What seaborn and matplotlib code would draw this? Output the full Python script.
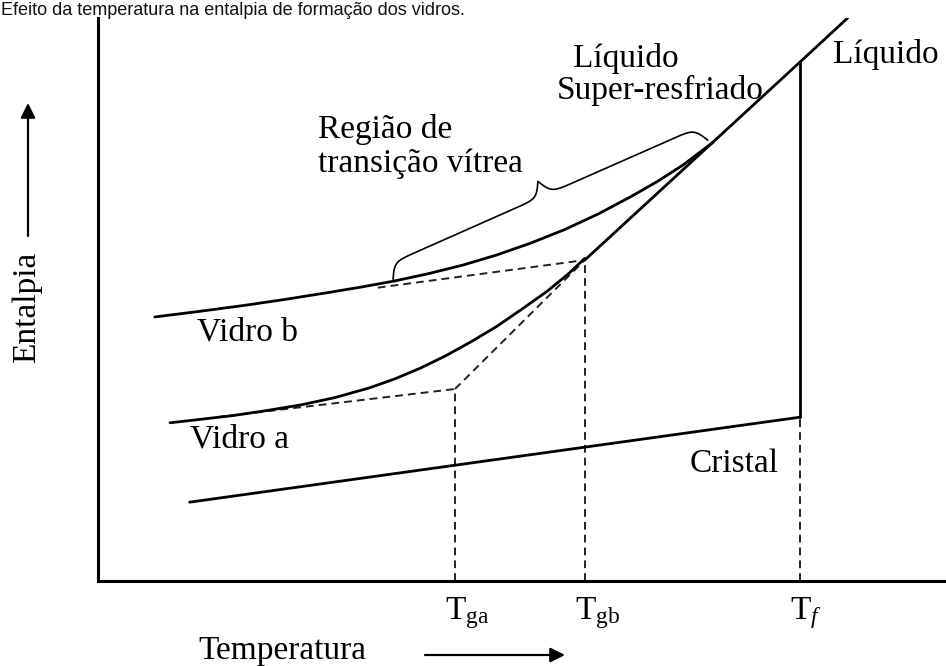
import numpy as np
import pandas as pd
import matplotlib
matplotlib.use('Agg')
import matplotlib.pyplot as plt
import matplotlib.transforms as mtransforms
import seaborn as sns

# --- values (temperature / enthalpy, arbitrary units 0-100) ---
t_liquido = [57.4, 82.8, 88.4]
h_liquido = [57.0, 92.2, 100.0]

t_vidro_b = [6.7, 12, 17, 22, 27, 31, 35, 39, 43, 47, 51, 55, 59, 63, 66, 69, 72.5]
h_vidro_b = [46.9, 47.9, 48.9, 50.0, 51.2, 52.2, 53.3, 54.6, 56.1, 57.9, 60.0, 62.4,
             65.2, 68.4, 71.0, 73.9, 77.9]

t_vidro_a = [8.5, 12, 16, 20, 24, 28, 32, 35, 38, 41, 44, 47, 50, 53, 55.5, 57.4]
h_vidro_a = [28.1, 28.7, 29.4, 30.3, 31.3, 32.6, 34.3, 35.9, 37.8, 40.0, 42.5, 45.2,
             48.3, 51.5, 54.6, 57.3]

t_cristal = [10.8, 82.8]
h_cristal = [14.0, 29.1]

# extrapolations (dashed)
t_ext_a = [14, 42.1]
h_ext_a = [29.1, 34.1]
t_ext_b = [33, 57.4]
h_ext_b = [52.1, 57.0]
t_ext_liq = [42.1, 57.4]
h_ext_liq = [34.1, 57.0]

t_marks = [42.1, 57.4, 82.8]
h_marks = [34.1, 57.0, 29.1]
mark_labels = [r'$\mathrm{T}_{\mathrm{ga}}$', r'$\mathrm{T}_{\mathrm{gb}}$', r'$\mathrm{T}_{\mathit{f}}$']

brace_start = (34.8, 53.6)
brace_end = (71.9, 78.3)

W, H = 946, 666

sns.set_theme(style='white')
plt.rcParams['font.family'] = ['Liberation Serif', 'DejaVu Serif']
plt.rcParams['text.color'] = 'black'
plt.rcParams['mathtext.fontset'] = 'custom'
plt.rcParams['mathtext.rm'] = 'Liberation Serif'
plt.rcParams['mathtext.it'] = 'Liberation Serif:italic'
plt.rcParams['mathtext.bf'] = 'Liberation Serif:bold'


def fx(x):
    return x / W


def fy(y):
    return 1 - y / H


fig = plt.figure(figsize=(W / 100, H / 100), dpi=100)
ax = fig.add_axes([fx(98), fy(581), fx(946 - 98), (581 - 18) / H])
ax.set_xlim(0, 100)
ax.set_ylim(0, 100)

solid = dict(color='black', lw=2.0, sort=False, estimator=None, ax=ax)
dash = dict(color='#222222', lw=1.4, linestyle=(0, (4, 2.6)))

# dashed construction lines
ax.plot(t_ext_a, h_ext_a, **dash)
ax.plot(t_ext_b, h_ext_b, **dash)
ax.plot(t_ext_liq, h_ext_liq, **dash)
for t, h in zip(t_marks, h_marks):
    ax.plot([t, t], [0, h], **dash)

# solid curves
sns.lineplot(x=t_liquido, y=h_liquido, **solid)
sns.lineplot(x=t_vidro_b, y=h_vidro_b, **solid)
sns.lineplot(x=t_vidro_a, y=h_vidro_a, **solid)
sns.lineplot(x=t_cristal, y=h_cristal, **solid)
sns.lineplot(x=[t_marks[2], t_marks[2]], y=[h_cristal[1], h_liquido[1]], **solid)

# curly brace over the glass transition region
a = ax.transData.transform(brace_start)
b = ax.transData.transform(brace_end)
d = b - a
L = np.hypot(*d)
u = d / L
nrm = np.array([-u[1], u[0]])
s = np.linspace(0, L / 2, 200)
half = 1 / (1 + np.exp(-0.25 * (s - s[0]))) + 1 / (1 + np.exp(-0.25 * (s - s[-1])))
off = 31 * (np.concatenate([half, half[::-1]]) - 0.5)
along = np.concatenate([s, L - s[::-1]])
pts = a + np.outer(along, u) + np.outer(off, nrm)
pts = ax.transData.inverted().transform(pts)
ax.plot(pts[:, 0], pts[:, 1], color='black', lw=1.2)

# axes
for side in ['top', 'right']:
    ax.spines[side].set_visible(False)
for side in ['left', 'bottom']:
    ax.spines[side].set_color('black')
    ax.spines[side].set_linewidth(2.2)
ax.set_yticks([])
ax.set_xticks(t_marks, mark_labels)
ax.tick_params(axis='x', length=0, pad=10, labelsize=24, colors='black')
shift = mtransforms.ScaledTranslation(-10 / 100, 0, fig.dpi_scale_trans)
for lab in ax.get_xticklabels():
    lab.set_ha('left')
    lab.set_transform(lab.get_transform() + shift)

# labels
fs = 24
fig.text(fx(573), fy(67), 'Líquido', fontsize=fs, va='baseline')
fig.text(fx(557), fy(99), 'Super-resfriado', fontsize=fs, va='baseline')
fig.text(fx(833), fy(63), 'Líquido', fontsize=fs, va='baseline')
fig.text(fx(318), fy(138), 'Região de', fontsize=fs, va='baseline')
fig.text(fx(318), fy(172), 'transição vítrea', fontsize=fs, va='baseline')
fig.text(fx(197), fy(341), 'Vidro b', fontsize=fs, va='baseline')
fig.text(fx(190), fy(448), 'Vidro a', fontsize=fs, va='baseline')
fig.text(fx(690), fy(472), 'Cristal', fontsize=fs, va='baseline')
fig.text(fx(198), fy(659), 'Temperatura', fontsize=fs, va='baseline')
fig.text(fx(27), fy(307), 'Entalpia', fontsize=fs, rotation=90, ha='center', va='center')

arrow = dict(arrowstyle='-|>', color='black', lw=1.6, mutation_scale=22, shrinkA=0, shrinkB=0)
ax.annotate('', xy=(fx(28), fy(103)), xytext=(fx(28), fy(236)),
            xycoords='figure fraction', textcoords='figure fraction', arrowprops=arrow,
            annotation_clip=False)
ax.annotate('', xy=(fx(565), fy(655)), xytext=(fx(425), fy(655)),
            xycoords='figure fraction', textcoords='figure fraction', arrowprops=arrow,
            annotation_clip=False)

fig.text(fx(1), fy(15), 'Efeito da temperatura na entalpia de formação dos vidros.',
         fontsize=13, family=['Liberation Sans', 'DejaVu Sans'], va='baseline', color='#111111')

fig.savefig('out.png', dpi=100)
